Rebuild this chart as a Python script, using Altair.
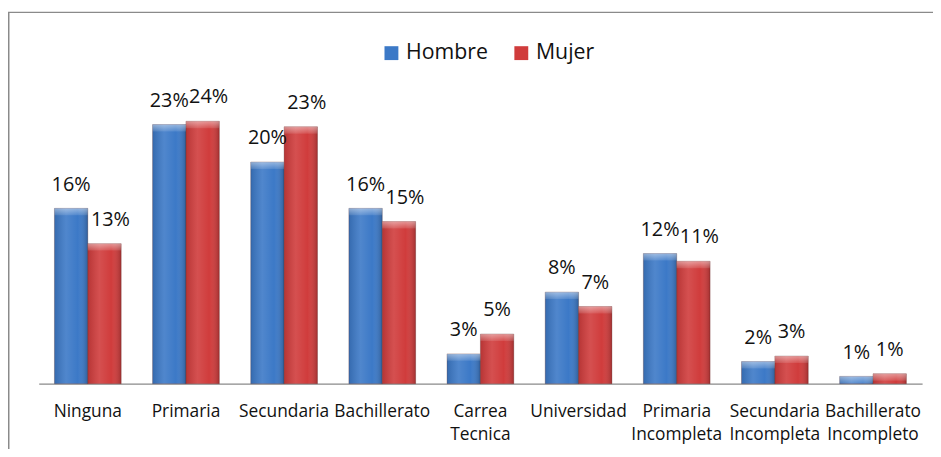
import altair as alt
import pandas as pd

categories = ["Ninguna", "Primaria", "Secundaria", "Bachillerato", "Carrea Tecnica",
              "Universidad", "Primaria Incompleta", "Secundaria Incompleta",
              "Bachillerato Incompleto"]
series = ["Hombre", "Mujer"]
hombre = [15.9, 23.5, 20.1, 15.9, 2.7, 8.3, 11.8, 2.0, 0.66]
mujer = [12.7, 23.8, 23.3, 14.7, 4.5, 7.0, 11.1, 2.5, 0.9]
hombre_labels = ["16%", "23%", "20%", "16%", "3%", "8%", "12%", "2%", "1%"]
mujer_labels = ["13%", "24%", "23%", "15%", "5%", "7%", "11%", "3%", "1%"]
colors = ["#3C79C7", "#D03C3C"]

rows = []
for i, c in enumerate(categories):
    rows.append({"categoria": c, "serie": "Hombre", "valor": hombre[i], "etiqueta": hombre_labels[i]})
    rows.append({"categoria": c, "serie": "Mujer", "valor": mujer[i], "etiqueta": mujer_labels[i]})
df = pd.DataFrame(rows)

FONT = "Open Sans"

x_enc = alt.X(
    "categoria:N", sort=categories,
    scale=alt.Scale(paddingInner=0.32, paddingOuter=0.16),
    axis=alt.Axis(title=None, ticks=False, labelAngle=0, labelFont=FONT,
                  labelFontSize=17.5, labelColor="#111111", labelPadding=19.5,
                  labelLineHeight=23, labelBaseline="top",
                  labelExpr="split(datum.label, ' ')",
                  domainColor="#8a8a8a", domainWidth=1.2, grid=False),
)
xo_enc = alt.XOffset("serie:N", sort=series,
                     scale=alt.Scale(domain=series, paddingInner=0, paddingOuter=0))
y_enc = alt.Y("valor:Q", scale=alt.Scale(domain=[0, 25], nice=False), axis=None)

base = alt.Chart(df)

bars = base.mark_bar(strokeWidth=0.6, stroke="#5a2a2a", strokeOpacity=0.5).encode(
    x=x_enc, xOffset=xo_enc, y=y_enc,
    color=alt.Color(
        "serie:N",
        scale=alt.Scale(domain=series, range=colors),
        legend=alt.Legend(title=None, orient="none", legendX=345, legendY=-66.5,
                          direction="horizontal", symbolType="square",
                          symbolSize=196, symbolStrokeWidth=0, symbolOpacity=1,
                          labelFont=FONT, labelFontSize=21.5, labelColor="#111111",
                          labelOffset=4, columnPadding=22),
    ),
)

shade = base.mark_bar(
    color=alt.LinearGradient(
        gradient="linear", x1=0, x2=1, y1=0, y2=0,
        stops=[alt.GradientStop(color="rgba(0,0,0,0.12)", offset=0),
               alt.GradientStop(color="rgba(255,255,255,0.10)", offset=0.35),
               alt.GradientStop(color="rgba(255,255,255,0.0)", offset=0.7),
               alt.GradientStop(color="rgba(0,0,0,0.22)", offset=1)])
).encode(x=x_enc, xOffset=xo_enc, y=y_enc)

bevel = base.mark_bar(
    y2Offset=7,
    color=alt.LinearGradient(
        gradient="linear", x1=0, x2=0, y1=0, y2=1,
        stops=[alt.GradientStop(color="rgba(255,255,255,0.45)", offset=0),
               alt.GradientStop(color="rgba(255,255,255,0.10)", offset=1)])
).encode(x=x_enc, xOffset=xo_enc, y=y_enc, y2=alt.Y2("valor:Q"))

text_props = dict(baseline="alphabetic", font=FONT, fontSize=20, color="#111111")
text_enc = dict(x=x_enc, xOffset=xo_enc, y=y_enc, text="etiqueta:N")

labels_main = base.transform_filter(
    "datum.serie == 'Hombre' || length(datum.etiqueta) <= 2"
).mark_text(dy=-18, **text_props).encode(**text_enc)

labels_shift = base.transform_filter(
    "datum.serie == 'Mujer' && length(datum.etiqueta) > 2"
).mark_text(dy=-18, dx=6, **text_props).encode(**text_enc)

frame = alt.Chart(alt.Data(values=[{"f": 1}])).mark_rect(
    filled=False, stroke="#8a8a8a", strokeWidth=1.5).encode(
    x=alt.value(-30.25), x2=alt.value(960), y=alt.value(-96.5), y2=alt.value(520))

chart = alt.layer(frame, bars, shade, bevel, labels_main, labels_shift).properties(
    width=891, height=278,
    padding={"left": 31, "top": 99, "right": 11, "bottom": 64},
    autosize=alt.AutoSizeParams(type="none"),
    background="white",
).configure_view(stroke=None)

chart.save("out.html", embed_options={"renderer": "svg", "actions": False})
